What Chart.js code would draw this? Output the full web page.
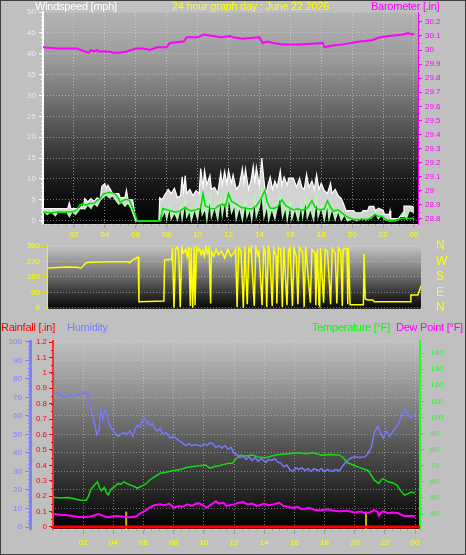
<!DOCTYPE html>
<html><head><meta charset="utf-8">
<script src="https://cdn.jsdelivr.net/npm/chart.js@4/dist/chart.umd.min.js"></script>
<style>
html,body{margin:0;padding:0;background:#c0c0c0;}
#wrap{position:relative;width:466px;height:555px;overflow:hidden;background:#c0c0c0;}
canvas{position:absolute;left:0;}
.t{position:absolute;font:11px "Liberation Sans",Arial,sans-serif;line-height:12px;white-space:nowrap;letter-spacing:-0.25px;}
#frame{position:absolute;left:0;top:0;width:464px;height:553px;border:1px solid #404040;pointer-events:none;}
</style></head><body>
<div id="wrap">
<canvas id="c1" width="466" height="244" style="top:0"></canvas>
<canvas id="c2" width="466" height="80" style="top:236px"></canvas>
<canvas id="c3" width="466" height="239" style="top:316px"></canvas>
<div class="t" style="left:35px;top:0;color:#ffffff">Windspeed [mph]</div>
<div class="t" style="left:172px;top:0;color:#ffff00">24 hour graph day : June 22 2026</div>
<div class="t" style="left:371px;top:0;color:#ff00ff">Barometer [.in]</div>
<div class="t" style="left:1px;top:321px;color:#ff0000">Rainfall [.in]</div>
<div class="t" style="left:67px;top:321px;color:#7c7cff">Humidity</div>
<div class="t" style="left:312px;top:321px;color:#00ff00">Temperature [°F]</div>
<div class="t" style="left:396px;top:321px;color:#ff00ff">Dew Point [°F]</div>
<div id="frame"></div>
</div>
<script>
// ---------- DATA ----------
const hourTicks = [2,4,6,8,10,12,14,16,18,20,22,24];
const hourLabels = ['02','04','06','08','10','12','14','16','18','20','22','00'];
const windTicks = [0,5,10,15,20,25,30,35,40,45,50];
const baroTicks = [28.8,28.9,29.0,29.1,29.2,29.3,29.4,29.5,29.6,29.7,29.8,29.9,30.0,30.1,30.2];
const dirTicks = [0,90,180,270,360];
const compassLabels = ['N','E','S','W','N'];
const humTicks = [0,10,20,30,40,50,60,70,80,90,100];
const rainTicks = [0,0.1,0.2,0.3,0.4,0.5,0.6,0.7,0.8,0.9,1.0,1.1,1.2];
const tempTicks = [40,50,60,70,80,90,100,110,120,130,140];

const gustHours = [0,0.5,1.0,1.6,1.7,1.8,2.6,2.7,2.9,3.1,3.3,3.5,3.7,3.8,4.0,4.1,4.2,4.4,4.5,4.9,5.0,5.3,5.4,5.5,5.8,6.0,7.5,7.55,7.7,7.9,8.1,8.3,8.5,8.7,8.9,9.0,9.1,9.2,9.3,9.5,9.7,9.9,10.1,10.2,10.35,10.45,10.6,10.8,10.9,11.1,11.3,11.5,11.6,11.75,11.9,12.0,12.2,12.3,12.5,12.7,12.9,13.0,13.1,13.3,13.45,13.6,13.7,13.8,14.0,14.15,14.3,14.4,14.55,14.7,14.85,15.0,15.15,15.35,15.45,15.6,15.8,15.9,16.2,16.4,16.6,16.75,16.9,17.05,17.2,17.4,17.55,17.7,17.85,18.0,18.2,18.4,18.6,18.7,18.9,19.1,19.3,19.45,19.6,20.1,20.2,20.6,20.7,21.0,21.1,21.4,21.5,21.7,22.0,22.1,22.4,22.45,22.5,23.0,23.1,23.3,23.35,23.8,24.0];
const gustMph = [2.9,2.9,2.9,2.9,4.3,2.9,2.9,5.3,4.5,5.3,4.6,5.5,5.0,8.2,8.9,7.8,8.5,7.2,6.5,6.5,5.5,5.5,7.3,5.0,5.0,0,0,5.5,5.0,6.3,7.5,6.5,7.8,5.5,6.0,10.5,7.0,10.8,6.5,7.5,6.0,7.2,6.5,12.5,8.0,12.0,8.6,10.8,7.5,8.0,6.5,11.5,8.5,11.8,8.8,12.0,9.0,11.0,7.5,8.5,12.5,9.0,12.3,7.5,9.5,13.0,9.0,12.8,8.5,15.0,9.5,6.0,8.5,10.5,7.5,9.5,8.0,12.0,8.5,10.5,8.5,10.2,10.2,8.0,10.2,8.0,7.5,11.2,8.0,9.5,7.5,11.0,7.5,9.0,7.2,6.5,9.0,6.5,7.5,6.0,5.3,4.0,2.4,2.4,1.9,1.9,2.4,2.4,3.4,3.4,2.4,3.0,2.5,1.5,1.5,2.4,0.5,0.5,1.0,1.0,3.5,3.5,3.2];

const speedHours = [0,0.3,0.5,0.8,1.0,1.3,1.5,1.7,1.9,2.1,2.3,2.5,2.7,2.9,3.1,3.3,3.5,3.7,3.9,4.1,4.3,4.5,4.7,4.9,5.1,5.3,5.5,5.7,5.9,6.0,7.55,7.6,7.7,7.9,8.0,8.2,8.3,8.5,8.7,8.9,9.0,9.2,9.3,9.5,9.6,9.8,10.0,10.2,10.3,10.5,10.6,10.8,10.9,11.1,11.3,11.5,11.6,11.8,11.9,12.0,12.2,12.4,12.5,12.7,12.9,13.1,13.2,13.4,13.5,13.7,13.8,14.0,14.15,14.3,14.5,14.6,14.8,15.0,15.2,15.35,15.5,15.7,15.8,16.0,16.1,16.3,16.5,16.7,16.8,17.0,17.1,17.3,17.5,17.7,17.8,18.0,18.2,18.4,18.5,18.7,18.9,19.1,19.3,19.5,19.7,20.0,20.3,20.6,20.9,21.2,21.5,21.7,21.9,22.1,22.4,22.8,23.0,23.3,23.5,23.7,24.0];
const speedMph = [2.2,1.5,2.3,1.2,2.4,2.0,2.5,1.0,2.3,1.5,2.5,3.5,2.8,3.8,3.0,4.2,3.5,5.0,5.6,6.2,5.5,6.0,5.0,4.0,4.5,3.5,4.3,3.0,1.0,0,0,3.0,1.0,2.5,0.5,3.5,0.5,2.0,0.3,3.5,0.5,5.0,1.0,2.5,0.2,3.0,0.5,5.5,1.5,3.0,0.3,6.0,1.0,3.5,0.5,5.5,1.5,6.0,0.8,6.5,2.0,4.0,0.5,3.5,0.3,5.0,1.0,3.0,0.3,5.5,1.0,3.5,7.0,1.0,4.0,0.3,3.0,0.5,4.0,6.0,1.0,3.5,0.3,4.5,0.5,3.0,0.3,4.0,1.0,5.5,0.8,3.0,0.3,5.5,1.0,3.5,0.3,4.5,0.5,3.0,0.3,2.5,0.2,1.5,0,0.5,0,0.8,0.2,1.0,2.0,0.5,1.5,0.3,0,0,0.5,2.0,0.5,2.5,2.0];

const avgHours = [0,0.5,1.0,1.5,2.0,2.2,2.4,2.6,2.8,3.0,3.3,3.5,3.7,3.9,4.1,4.3,4.5,4.7,4.9,5.0,5.2,5.4,5.6,5.8,6.1,7.6,7.75,8.0,8.3,8.6,8.9,9.2,9.4,9.6,9.9,10.2,10.35,10.5,10.8,11.1,11.3,11.6,11.8,12.0,12.2,12.5,12.8,13.1,13.5,13.8,14.1,14.35,14.5,14.7,15.0,15.2,15.45,15.7,15.9,16.2,16.5,16.8,17.1,17.4,17.6,17.9,18.2,18.4,18.6,18.8,19.1,19.3,19.7,20.1,20.5,21.0,21.25,21.5,21.7,21.9,22.1,22.3,22.7,23.0,23.2,23.6,24.0];
const avgMph = [2.0,1.9,2.1,2.0,2.2,2.6,3.9,4.0,3.7,4.1,4.2,4.8,5.2,6.4,6.6,6.8,6.6,6.3,5.2,4.4,4.9,5.1,4.8,3.0,0,0,2.9,2.6,2.3,2.0,2.4,3.2,2.6,2.3,2.6,3.0,6.5,3.5,3.0,2.8,3.4,4.0,3.3,6.5,4.6,4.0,3.2,3.0,2.8,3.5,5.3,7.2,4.5,3.0,3.0,3.4,5.0,3.6,3.2,2.6,2.8,2.5,3.0,4.8,3.2,2.6,2.8,4.8,3.2,2.3,2.6,2.0,0.8,0.3,0.3,0.4,0.6,1.5,1.0,1.1,0.5,0.1,0.1,0.3,0.6,0.5,0.6];

const baroHours = [0,0.9,2.2,2.95,3.1,3.3,3.5,3.6,4.2,4.6,5.0,5.4,6.0,6.5,6.9,7.4,8.0,8.2,9.1,9.3,10.0,10.4,11.0,11.5,12.1,12.3,12.9,14.0,14.2,14.5,14.9,15.5,16.6,18.1,18.2,18.6,19.4,20.5,21.3,21.8,22.4,23.3,23.6,23.9,24.0];
const baroInHg = [30.02,30.01,30.01,29.98,30.0,29.99,30.0,29.99,29.99,29.98,29.98,29.99,30.01,30.01,30.0,30.02,30.02,30.05,30.06,30.09,30.09,30.11,30.1,30.09,30.1,30.09,30.08,30.09,30.05,30.06,30.05,30.04,30.04,30.05,30.02,30.03,30.04,30.06,30.07,30.09,30.1,30.11,30.12,30.11,30.12];

const dirHours = [0,1.3,1.9,2.2,2.5,2.7,4.0,5.2,5.3,5.5,5.85,5.9,7.0,7.5,7.55,8.0,8.05,8.15,8.25,8.35,8.45,8.55,8.65,8.75,8.9,9.0,9.1,9.2,9.25,9.35,9.45,9.5,9.6,9.7,9.8,9.9,10.0,10.1,10.2,10.3,10.4,10.5,10.55,10.7,10.85,11.0,11.2,11.4,11.6,11.8,12.0,12.1,12.2,12.3,12.45,12.6,12.7,12.85,12.95,13.05,13.1,13.3,13.4,13.55,13.6,13.8,13.9,14.0,14.1,14.2,14.3,14.45,14.55,14.7,14.75,14.85,15.0,15.1,15.2,15.4,15.5,15.6,15.75,15.85,16.0,16.1,16.2,16.4,16.5,16.6,16.9,17.0,17.2,17.25,17.35,17.45,17.5,17.55,17.75,17.85,18.0,18.2,18.3,18.5,18.6,18.7,18.85,18.95,19.0,19.25,19.3,19.35,19.45,20.3,20.35,20.42,20.6,20.9,21.0,23.3,23.35,23.8,24.0];
const dirDeg = [232,238,236,232,262,266,268,268,262,279,296,35,38,40,279,283,348,0,340,355,330,5,350,320,340,300,355,10,350,0,355,15,350,330,345,310,335,300,355,320,350,25,330,300,340,310,330,290,340,300,320,340,5,350,330,0,355,20,345,330,350,10,355,300,340,15,350,330,5,355,320,10,345,300,25,350,340,5,355,15,340,350,10,345,300,20,350,330,5,355,30,340,320,15,345,20,10,350,30,340,330,20,345,320,25,350,330,10,340,345,20,350,17,17,313,52,46,46,35,35,75,75,128];

const humHours = [0,0.3,0.6,0.85,1.1,1.3,1.6,1.9,2.2,2.35,2.5,2.7,2.9,3.05,3.15,3.25,3.3,3.4,3.5,3.65,3.8,4.0,4.3,4.5,4.7,4.9,5.1,5.3,5.45,5.6,5.75,5.9,6.1,6.2,6.3,6.45,6.6,6.75,6.9,7.1,7.3,7.5,7.8,8.0,8.3,8.5,8.8,9.0,9.2,9.5,9.8,10.0,10.2,10.4,10.6,10.8,11.0,11.2,11.4,11.6,11.8,12.0,12.2,12.4,12.6,12.8,13.0,13.2,13.4,13.6,13.8,14.1,14.3,14.5,14.7,14.9,15.1,15.3,15.5,15.7,15.9,16.1,16.3,16.5,16.7,16.9,17.1,17.3,17.6,17.8,18.0,18.2,18.5,18.7,19.0,19.2,19.4,19.7,20.0,20.3,20.7,20.9,21.1,21.3,21.55,21.75,21.9,22.1,22.3,22.5,22.7,22.9,23.1,23.3,23.45,23.7,23.9,24.0];
const humPct = [72,72.5,70.5,70,71,70.5,71.5,72,73,70,64,58,50,52,63,60,59,62,63,58,54,52,49,50,51,50,52,49,53,55,54,57,59,56,57,55,56,53,52,53,50,51,48,49,47,46,44,45,44,44.5,43.5,45,44,45.5,45,43,44,42.5,44,42,43,40,39,37.5,38.5,36.5,38,36,37.5,35.5,37,35,36.5,36,37,35,34.5,32.5,33.5,31,30,32,31,32,30.5,31.5,30,31.5,30.5,31.5,30,31,30,31,30.5,33,35,37,38,37.5,38,40,43,51,54.5,50,48,52,49,51,53.5,56,60,64,62,59,60.5,60];

const tempHours = [0,0.5,1.0,1.4,1.8,2.2,2.35,2.5,2.75,2.95,3.1,3.2,3.4,3.55,3.65,3.9,4.1,4.3,4.5,4.7,4.9,5.1,5.3,5.6,5.8,6.0,6.2,6.4,6.7,7.1,7.5,8.0,8.4,8.9,9.3,9.7,10.1,10.4,10.7,11.0,11.4,11.7,11.9,12.1,12.4,12.8,13.2,13.6,14.1,14.5,15.0,15.6,16.3,16.8,17.2,17.5,17.8,18.4,19.0,19.25,19.5,19.9,20.3,20.6,20.9,21.1,21.3,21.6,21.75,21.9,22.2,22.5,22.8,23.0,23.3,23.5,23.75,24.0];
const tempF = [50.5,50,50.3,49.5,48.6,48.6,51,55,58,60,56,54.5,56.5,53,52,56,57,59,58.5,60,59,58,57.5,56,57,58,59,61,63,65.4,66,67,67.5,69,69.5,70,70.5,68.5,69.5,70,71,71.6,71.6,74,76.6,76,76.6,75.5,75,76,77,77.5,78,77.5,78,77.5,76.6,77,76.6,75,72,70.5,69,68,67,64,61,59,61,62,60,59.5,58,55,51.7,52.5,53.6,53];

const dewHours = [0,0.5,1.0,1.5,2.0,2.5,3.0,3.3,3.6,3.9,4.3,4.7,5.1,5.5,5.8,6.1,6.4,6.7,7.1,7.4,7.7,8.0,8.3,8.6,8.9,9.2,9.5,9.7,9.9,10.2,10.5,10.8,11.0,11.3,11.5,11.7,12.0,12.3,12.6,12.9,13.2,13.5,13.7,14.0,14.3,14.6,15.0,15.3,15.6,15.9,16.2,16.5,17.0,17.4,17.8,18.2,18.6,19.0,19.5,20.0,20.4,20.7,21.0,21.3,21.5,21.6,21.75,21.9,22.2,22.5,22.9,23.3,23.7,24.0];
const dewF = [40,39.5,39.3,38.5,38,38.5,40,39,38,38.5,38.7,38.3,38,38.5,40.5,42,44,45.5,46,45.5,46.5,44,45,44.5,46,45,46.5,46.7,45.5,44,46,48,46.5,47,45,45.5,46,47,47.4,46,46.5,45,45.5,46.5,45.5,46,47,45,44.5,43.7,44.5,43,43.7,42.5,42.4,43,42,41.8,42,41,41.5,40.5,41,42.4,41.5,39,41,41.8,40.5,41,40.5,38.7,39,38.7];

const rainHours = [0,24.33];
const rainIn = [0,0];
const sunHours = [4.85,20.75];

// ---------- HELPERS ----------
const F = '"Liberation Sans", Arial, sans-serif';
const pts = (hs, vs) => hs.map((h,i) => ({x:h, y:vs[i]}));
const fixW = w => s => { s.width = w; };
const fixH = h => s => { s.height = h; };
const tickSet = arr => s => { s.ticks = arr.map(v => ({value:v})); };
const bgPlugin = {
  id:'bg',
  beforeDraw(chart, args, opts){
    const {ctx, chartArea:a} = chart;
    const g = ctx.createLinearGradient(0, a.top, 0, a.bottom);
    opts.stops.forEach(([p,c]) => g.addColorStop(p,c));
    ctx.save(); ctx.fillStyle = g; ctx.fillRect(a.left, a.top, a.width, a.height); ctx.restore();
  }
};
// small minor tick marks along axes
const minorPlugin = {
  id:'minor',
  afterDraw(chart, args, opts){
    const ctx = chart.ctx, a = chart.chartArea;
    ctx.save();
    (opts.list || []).forEach(m => {
      const s = chart.scales[m.id];
      ctx.strokeStyle = m.color; ctx.lineWidth = 1;
      ctx.beginPath();
      const n = Math.round((m.to - m.from) / m.step);
      for (let k = 0; k <= n; k++) {
        const p = Math.round(s.getPixelForValue(m.from + k * m.step)) + 0.5;
        if (s.isHorizontal()) { ctx.moveTo(p, a.bottom); ctx.lineTo(p, a.bottom + m.len); }
        else if (s.position === 'left') { ctx.moveTo(s.right, p); ctx.lineTo(s.right - m.len, p); }
        else { ctx.moveTo(s.left, p); ctx.lineTo(s.left + m.len, p); }
      }
      ctx.stroke();
    });
    ctx.restore();
  }
};
const base = {animation:false, responsive:false, devicePixelRatio:1, events:[]};
const font8 = {size:8, family:F};

// ---------- PANEL 1: wind + barometer ----------
new Chart(document.getElementById('c1'), {
  type:'line',
  data:{datasets:[
    {label:'Barometer', data:pts(baroHours, baroInHg), yAxisID:'yb', borderColor:'#ff00ff', borderWidth:2, pointRadius:0, order:0},
    {label:'Average', data:pts(avgHours, avgMph), yAxisID:'yw', borderColor:'#00e000', borderWidth:1.5, pointRadius:0, order:1},
    {label:'Wind speed', data:pts(speedHours, speedMph), yAxisID:'yw', borderColor:'#b8f5b8', borderWidth:1.5, pointRadius:0, order:2},
    {label:'Gust', data:pts(gustHours, gustMph), yAxisID:'yw', borderColor:'#ffffff', borderWidth:1.2, pointRadius:0, fill:2, backgroundColor:'rgba(228,228,228,0.92)', order:3}
  ]},
  options:{...base,
    layout:{padding:{top:12, left:0, right:0, bottom:0}},
    plugins:{legend:{display:false}, tooltip:{enabled:false},
      bg:{stops:[[0,'#b4b4b4'],[0.23,'#9a9a9a'],[0.42,'#707070'],[0.6,'#484848'],[0.79,'#1c1c1c'],[1,'#000000']]},
      minor:{list:[
        {id:'x', from:0, to:24, step:0.5, len:2, color:'#a8a8a8'},
        {id:'yw', from:0, to:50, step:1, len:2, color:'#ffffff'},
        {id:'yb', from:28.8, to:30.25, step:0.05, len:2, color:'#ff00ff'}]}},
    scales:{
      x:{type:'linear', min:0, max:24.26, afterBuildTicks:tickSet(hourTicks), afterFit:fixH(20),
        ticks:{color:'#ffff00', font:font8, padding:2, maxRotation:0, autoSkip:false, callback:(v,i)=>hourLabels[i]},
        grid:{color:'rgba(225,225,225,0.55)', tickColor:'#9a9a9a', tickLength:4},
        border:{display:true, color:'#d0d0d0', dash:[1,2]}},
      yw:{position:'left', min:-0.8, max:50, afterBuildTicks:tickSet(windTicks), afterFit:fixW(43),
        ticks:{color:'#e6e6ff', font:font8, padding:3, autoSkip:false},
        grid:{color:'rgba(225,225,225,0.5)', tickColor:'#ffffff', tickLength:4},
        border:{color:'#ffffff', width:2, dash:[1,2]}},
      yb:{position:'right', min:28.764, max:30.27, afterBuildTicks:tickSet(baroTicks), afterFit:fixW(48),
        ticks:{color:'#ff00ff', font:font8, padding:3, autoSkip:false, callback:v=>String(+v.toFixed(1))},
        grid:{drawOnChartArea:false, tickColor:'#ff00ff', tickLength:4},
        border:{color:'#ff00ff', width:1}}
    }
  },
  plugins:[bgPlugin, minorPlugin]
});

// ---------- PANEL 2: wind direction ----------
new Chart(document.getElementById('c2'), {
  type:'line',
  data:{datasets:[
    {label:'Direction', data:pts(dirHours, dirDeg), yAxisID:'y', borderColor:'#ffff00', borderWidth:1.5, pointRadius:0}
  ]},
  options:{...base,
    layout:{padding:{top:9, left:0, right:0, bottom:6}},
    plugins:{legend:{display:false}, tooltip:{enabled:false},
      bg:{stops:[[0,'#c4c4c4'],[0.3,'#909090'],[0.55,'#606060'],[0.8,'#2a2a2a'],[1,'#080808']]},
      minor:{list:[{id:'y', from:0, to:360, step:30, len:2, color:'#e0e000'}]}},
    scales:{
      x:{type:'linear', min:0, max:24, display:false},
      y:{position:'left', min:-6, max:366, afterBuildTicks:tickSet(dirTicks), afterFit:fixW(47),
        ticks:{color:'#ffff00', font:font8, padding:2, autoSkip:false},
        grid:{color:'rgba(230,230,230,0.45)', tickColor:'#e0e000', tickLength:5},
        border:{color:'#d8d8d8', dash:[1,2]}},
      yc:{position:'right', min:-6, max:366, afterBuildTicks:tickSet(dirTicks), afterFit:fixW(45),
        ticks:{color:'#ffff00', font:{size:12, family:F}, padding:0, autoSkip:false, callback:(v,i)=>compassLabels[i]},
        grid:{display:true, drawOnChartArea:false, drawTicks:true, tickLength:15, tickColor:'rgba(0,0,0,0)'}, border:{display:false}}
    }
  },
  plugins:[bgPlugin, minorPlugin]
});

// ---------- PANEL 3: rain, humidity, temperature, dew point ----------
const sunSets = sunHours.map(h => ({label:'sun', data:[{x:h,y:-0.013},{x:h,y:0.1}], yAxisID:'yr', borderColor:'#c8b400', borderWidth:2, pointRadius:0, order:5}));
new Chart(document.getElementById('c3'), {
  type:'line',
  data:{datasets:[
    {label:'Rainfall', data:pts(rainHours, rainIn), yAxisID:'yr', borderColor:'#ff0000', borderWidth:3, pointRadius:0, order:0},
    {label:'Humidity', data:pts(humHours, humPct), yAxisID:'yh', borderColor:'#7878ff', borderWidth:1.5, pointRadius:0, order:1},
    {label:'Temperature', data:pts(tempHours, tempF), yAxisID:'yt', borderColor:'#10dd10', borderWidth:1.5, pointRadius:0, order:2},
    {label:'Dew Point', data:pts(dewHours, dewF), yAxisID:'yt', borderColor:'#ff00ff', borderWidth:2, pointRadius:0, order:3},
    ...sunSets
  ]},
  options:{...base,
    layout:{padding:{top:25, left:0, right:0, bottom:0}},
    plugins:{legend:{display:false}, tooltip:{enabled:false},
      bg:{stops:[[0,'#c0c0c0'],[0.3,'#8c8c8c'],[0.58,'#505050'],[0.79,'#282828'],[1,'#000000']]},
      minor:{list:[
        {id:'x', from:0, to:24, step:0.5, len:2, color:'#a8a8a8'},
        {id:'yh', from:0, to:100, step:2, len:2, color:'#8080ff'},
        {id:'yr', from:0, to:1.2, step:0.05, len:2, color:'#ff0000'},
        {id:'yt', from:40, to:140, step:2, len:2, color:'#20ff20'}]}},
    scales:{
      x:{type:'linear', min:0, max:24.33, afterBuildTicks:tickSet(hourTicks), afterFit:fixH(26),
        ticks:{color:'#ffff00', font:font8, padding:4, maxRotation:0, autoSkip:false, callback:(v,i)=>hourLabels[i]},
        grid:{color:'rgba(225,225,225,0.5)', tickColor:'#9a9a9a', tickLength:5},
        border:{display:true, color:'#e0e0e0', dash:[1,2]}},
      yh:{position:'left', weight:1, min:-1.08, max:100.5, afterBuildTicks:tickSet(humTicks), afterFit:fixW(30),
        ticks:{color:'#8080ff', font:font8, padding:3, autoSkip:false},
        grid:{color:'rgba(225,225,225,0.45)', tickColor:'#8080ff', tickLength:5},
        border:{color:'#8080ff', width:3, dash:[1,2]}},
      yr:{position:'left', weight:0, min:-0.013, max:1.2065, afterBuildTicks:tickSet(rainTicks), afterFit:fixW(23),
        ticks:{color:'#ff0000', font:font8, padding:2, autoSkip:false, callback:v=>String(+v.toFixed(1))},
        grid:{drawOnChartArea:false, tickColor:'#ff0000', tickLength:4},
        border:{color:'#ff3030', width:2}},
      yt:{position:'right', min:30.7, max:147.5, afterBuildTicks:tickSet(tempTicks), afterFit:fixW(46),
        ticks:{color:'#20ff20', font:font8, padding:6, autoSkip:false},
        grid:{drawOnChartArea:false, tickColor:'#20ff20', tickLength:4},
        border:{color:'#20ff20', width:2}}
    }
  },
  plugins:[bgPlugin, minorPlugin]
});
</script>
</body></html>
